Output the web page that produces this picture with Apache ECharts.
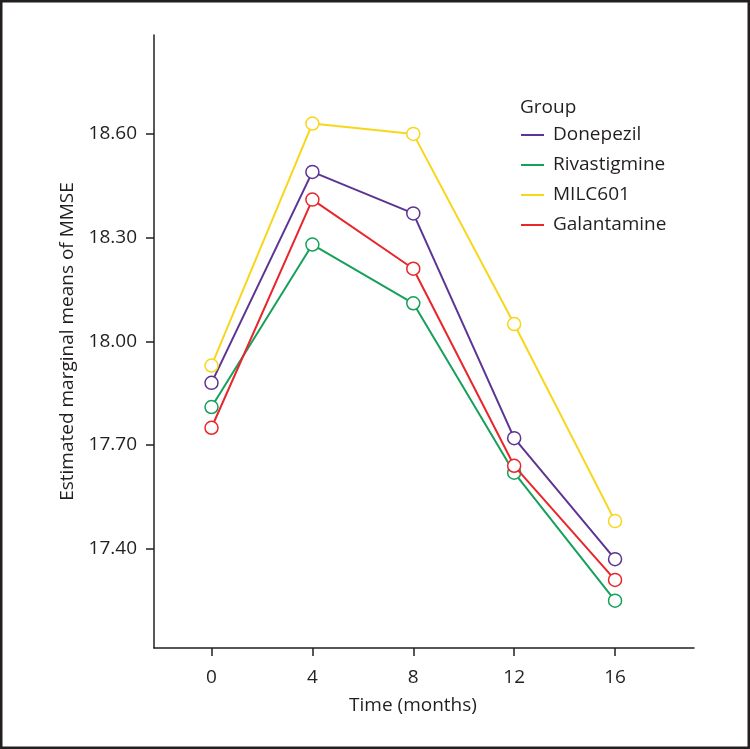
<!DOCTYPE html>
<html>
<head>
<meta charset="utf-8">
<script src="https://cdn.jsdelivr.net/npm/echarts@6/dist/echarts.min.js"></script>
<style>
html,body{margin:0;padding:0;background:#fff;}
#c{width:750px;height:749px;}
</style>
</head>
<body>
<div id="c"></div>
<script>
const months = [0, 4, 8, 12, 16];
const yTicks = [17.40, 17.70, 18.00, 18.30, 18.60];
const groups = ['Donepezil', 'Rivastigmine', 'MILC601', 'Galantamine'];
const donepezil = [17.88, 18.49, 18.37, 17.72, 17.37];
const rivastigmine = [17.81, 18.28, 18.11, 17.62, 17.25];
const milc601 = [17.93, 18.63, 18.60, 18.05, 17.48];
const galantamine = [17.75, 18.41, 18.21, 17.64, 17.31];
const colors = ['#5c3493', '#17a05a', '#f8d61c', '#e8262b'];
const values = [donepezil, rivastigmine, milc601, galantamine];

const textColor = '#231f20';
const font = 'Open Sans';
const fs = 19;

const chart = echarts.init(document.getElementById('c'), null, {renderer: 'canvas'});
const series = groups.map((g, i) => ({
  name: g,
  type: 'line',
  data: months.map((m, j) => [m, values[i][j]]),
  symbol: 'circle',
  symbolSize: 13,
  showSymbol: true,
  lineStyle: {color: colors[i], width: 2},
  itemStyle: {color: '#fff', borderColor: colors[i], borderWidth: 1.5},
  emphasis: {disabled: true},
  z: 2 + i
}));

chart.setOption({
  animation: false,
  backgroundColor: '#fff',
  textStyle: {fontFamily: font, color: textColor},
  grid: {left: 154, top: 35, right: 56, bottom: 101, containLabel: false},
  title: {
    text: 'Group', left: 515, top: 93,
    textStyle: {fontFamily: font, fontSize: fs, fontWeight: 'normal', color: textColor}
  },
  legend: {
    orient: 'vertical', left: 516, top: 119,
    itemWidth: 23, itemHeight: 2, itemGap: 8,
    icon: 'rect',
    data: groups.map((g, i) => ({name: g, itemStyle: {color: colors[i], borderWidth: 0}})),
    textStyle: {fontFamily: font, fontSize: fs, color: textColor, lineHeight: 22, padding: [0, 0, 0, 4]},
    selectedMode: false
  },
  xAxis: {
    type: 'value', min: -2.28, max: 19.13,
    name: 'Time (months)', nameLocation: 'middle', nameGap: 48,
    nameTextStyle: {fontFamily: font, fontSize: fs, color: textColor, padding: [0, 22, 0, 0]},
    axisLine: {show: true, onZero: false, lineStyle: {color: textColor, width: 1.5}},
    axisTick: {show: true, customValues: months, length: 8, inside: false, lineStyle: {color: textColor, width: 1.5}},
    axisLabel: {customValues: months, margin: 20, fontFamily: font, fontSize: fs, color: textColor},
    splitLine: {show: false}
  },
  yAxis: {
    type: 'value', min: 17.113, max: 18.886,
    name: 'Estimated marginal means of MMSE', nameLocation: 'middle', nameGap: 77,
    nameTextStyle: {fontFamily: font, fontSize: fs, color: textColor},
    axisLine: {show: true, onZero: false, lineStyle: {color: textColor, width: 1.5}},
    axisTick: {show: true, customValues: yTicks, length: 8, inside: false, lineStyle: {color: textColor, width: 1.5}},
    axisLabel: {customValues: yTicks, margin: 17, fontFamily: font, fontSize: fs, color: textColor,
      formatter: v => v.toFixed(2)},
    splitLine: {show: false}
  },
  graphic: [{
    type: 'rect', shape: {x: 1, y: 1, width: 748, height: 747},
    style: {fill: 'none', stroke: '#231f20', lineWidth: 3}, silent: true, z: 100
  }],
  series: series
});
</script>
</body>
</html>
